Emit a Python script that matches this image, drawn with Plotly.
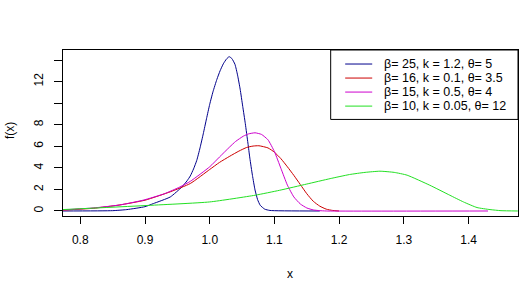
import plotly.graph_objects as go

# ---- data ----
blue_x = [0.773, 0.85, 0.872, 0.9, 0.913, 0.939, 0.957, 0.965, 0.970, 0.975, 0.980, 0.985, 0.990, 0.995,
          1.000, 1.005, 1.011, 1.016, 1.021, 1.026, 1.030, 1.034, 1.039, 1.043, 1.047, 1.051, 1.055,
          1.059, 1.062, 1.066, 1.070, 1.074, 1.078, 1.085, 1.093, 1.17]
blue_y = [0.0, 0.03, 0.13, 0.4, 0.69, 1.3, 2.23, 2.8, 3.25, 3.9, 4.7, 5.85, 7.15, 8.55,
          9.9, 11.05, 12.2, 13.0, 13.65, 14.1, 14.31, 14.15, 13.6, 12.6, 11.3, 9.7, 8.1,
          6.3, 4.9, 3.3, 1.95, 1.05, 0.53, 0.17, 0.05, 0.0]

red_x = [0.773, 0.82, 0.86, 0.9, 0.94, 0.970, 1.000, 1.015, 1.031, 1.045, 1.057, 1.067, 1.076, 1.09,
         1.10, 1.11, 1.12, 1.13, 1.14, 1.15, 1.16, 1.17, 1.18, 1.19, 1.2]
red_y = [0.08, 0.25, 0.55, 1.0, 1.8, 2.55, 3.85, 4.5, 5.08, 5.55, 5.89, 6.02, 6.05, 5.85,
         5.45, 4.85, 4.1, 3.3, 2.45, 1.6, 0.9, 0.45, 0.17, 0.05, 0.0]

mag_x = [0.773, 0.82, 0.86, 0.897, 0.93, 0.954, 0.970, 1.000, 1.015, 1.031, 1.04, 1.052, 1.06, 1.070,
         1.08, 1.09, 1.10, 1.11, 1.12, 1.13, 1.14, 1.15, 1.16, 1.17, 1.18, 1.43]
mag_y = [0.1, 0.28, 0.55, 1.0, 1.6, 2.23, 2.75, 4.1, 5.0, 5.95, 6.45, 6.94, 7.15, 7.25,
         7.1, 6.6, 5.5, 3.95, 2.4, 1.3, 0.65, 0.28, 0.1, 0.03, 0.0, 0.0]

grn_x = [0.773, 0.9, 1.0, 1.07, 1.108, 1.15, 1.186, 1.216, 1.24, 1.263, 1.285, 1.305, 1.340, 1.371,
         1.392, 1.413, 1.433, 1.45, 1.476]
grn_y = [0.13, 0.5, 0.84, 1.46, 1.92, 2.5, 3.0, 3.38, 3.58, 3.69, 3.58, 3.32, 2.39, 1.46,
         0.84, 0.32, 0.13, 0.03, 0.0]

labels = ["β= 25, k = 1.2, θ= 5", "β= 16, k = 0.1, θ= 3.5", "β= 15, k = 0.5, θ= 4", "β= 10, k = 0.05, θ= 12"]
colors = ["#00008B", "#CD0000", "#CD00CD", "#22E022"]

x_ticks = [0.8, 0.9, 1.0, 1.1, 1.2, 1.3, 1.4]
x_ticktext = ["0.8", "0.9", "1.0", "1.1", "1.2", "1.3", "1.4"]
y_ticks = [0, 2, 4, 6, 8, 10, 12, 14]
y_ticktext = ["0", "2", "4", "6", "8", "", "12", ""]

FONT = "Liberation Sans, Arial, sans-serif"

fig = go.Figure()
for xs, ys, c, lab in zip([blue_x, red_x, mag_x, grn_x], [blue_y, red_y, mag_y, grn_y], colors, labels):
    fig.add_trace(go.Scatter(x=xs, y=ys, mode="lines",
                             line=dict(color=c, width=1, shape="spline", smoothing=0.5),
                             name=lab, showlegend=False))

# plot area in pixels: left 63, right 517.7, top 50, bottom 215.7
L, R, T, B = 63.0, 517.7, 50.0, 215.7
W, H = R - L, B - T
def px(x):
    return (x - L) / W
def py(y):
    return (B - y) / H

shapes = []
annotations = []
# legend box
shapes.append(dict(type="rect", xref="paper", yref="paper", x0=px(330.5), x1=1, y0=py(119.3), y1=1,
                   line=dict(color="black", width=1), fillcolor="rgba(0,0,0,0)"))
rows = [64.0, 78.0, 92.0, 106.0]
for r, c, lab in zip(rows, colors, labels):
    shapes.append(dict(type="line", xref="paper", yref="paper", x0=px(345), x1=px(372), y0=py(r), y1=py(r),
                       line=dict(color=c, width=1)))
    annotations.append(dict(xref="paper", yref="paper", x=px(382), y=py(r), text=lab, showarrow=False,
                            xanchor="left", yanchor="middle", font=dict(family=FONT, size=12.5, color="black")))

# axis titles
annotations.append(dict(xref="paper", yref="paper", x=px(289.5), y=py(274), text="x", showarrow=False,
                        xanchor="center", yanchor="middle", font=dict(family=FONT, size=12, color="black")))
annotations.append(dict(xref="paper", yref="paper", x=px(10), y=py(130), text="f(x)", showarrow=False,
                        textangle=-90, xanchor="center", yanchor="middle",
                        font=dict(family=FONT, size=12, color="black")))

fig.update_layout(
    width=527, height=298,
    margin=dict(l=63, r=527 - 517.7, t=50, b=298 - 215.7, pad=0),
    paper_bgcolor="white", plot_bgcolor="white",
    shapes=shapes, annotations=annotations,
    showlegend=False,
    font=dict(family=FONT, size=12, color="black"),
)
fig.update_xaxes(range=[0.7733, 1.4763], tickvals=x_ticks, ticktext=x_ticktext,
                 showline=True, mirror=True, linecolor="black", linewidth=1,
                 ticks="outside", ticklen=7, tickcolor="black", tickwidth=1,
                 showgrid=False, zeroline=False, ticklabelstandoff=6,
                 tickfont=dict(family=FONT, size=12, color="black"))
fig.update_yaxes(range=[-0.465, 14.93], tickvals=y_ticks, ticktext=y_ticktext, tickangle=-90,
                 showline=True, mirror=True, linecolor="black", linewidth=1,
                 ticks="outside", ticklen=8, tickcolor="black", tickwidth=1,
                 showgrid=False, zeroline=False, ticklabelstandoff=6,
                 tickfont=dict(family=FONT, size=12, color="black"))

fig.write_html("out.html", config={"displayModeBar": False},
               post_script="document.body.style.margin='0px';")
